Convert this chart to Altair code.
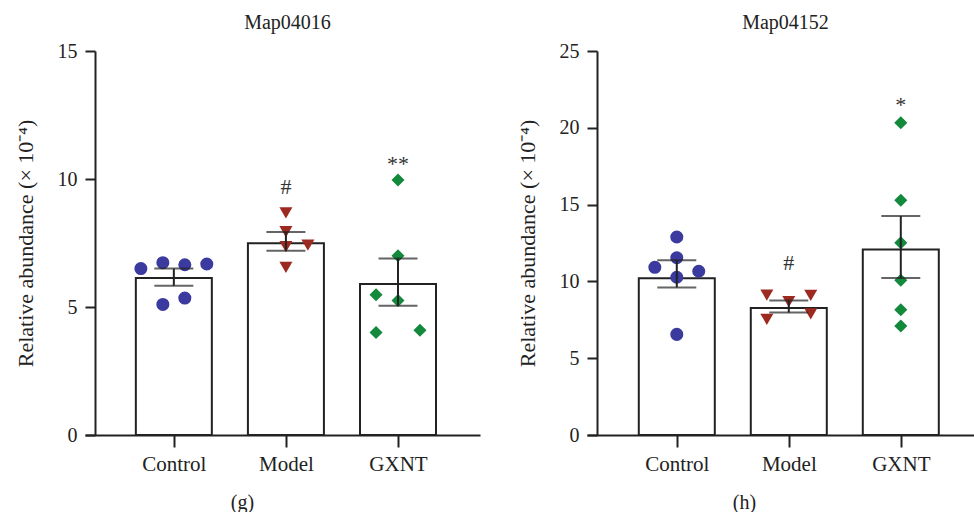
import altair as alt
import pandas as pd

groups = ["Control", "Model", "GXNT"]
colors = ["#3b3a9e", "#9d2a21", "#13893c"]
shapes = ["circle", "triangle-down", "diamond"]

# Map04016 (g): per-animal relative abundance (x 10^-4)
g_control = [6.50, 6.73, 6.65, 6.68, 5.10, 5.35]
g_model = [8.68, 7.94, 7.36, 7.42, 6.55]
g_gxnt = [9.96, 7.00, 5.48, 5.25, 4.00, 4.09]
g_bar = [6.13, 7.49, 5.90]
g_err_lo = [5.83, 7.20, 5.05]
g_err_hi = [6.50, 7.93, 6.89]
g_sig = ["", "#", "**"]
g_sig_at = [0.0, 9.41, 10.32]

# Map04152 (h)
h_control = [12.89, 11.54, 10.92, 10.27, 10.66, 6.55]
h_model = [9.11, 8.68, 9.09, 7.53, 7.88]
h_gxnt = [20.33, 15.28, 12.52, 10.07, 8.16, 7.10]
h_bar = [10.20, 8.27, 12.07]
h_err_lo = [9.61, 7.97, 10.22]
h_err_hi = [11.37, 8.75, 14.26]
h_sig = ["", "#", "*"]
h_sig_at = [0.0, 10.76, 21.05]

# side-by-side slots for overlapping dots (in dot widths)
g_slots = [[-1.5, -0.5, 0.5, 1.5, -0.5, 0.5], [0, 0, 0, 1, 0], [0, 0, -1, 0, -1, 1]]
h_slots = [[0, 0, -1, 0, 1, 0], [-1, 0, 1, -1, 1], [0, 0, 0, 0, 0, 0]]

FONT = "Liberation Serif"
INK = "#222222"
SLOT = 0.196


def panel(values, slots, bar, lo, hi, sig, sig_at, ymax, yticks, title, caption,
          xdomain, width):
    pts = pd.DataFrame(
        [
            {"idx": i, "group": groups[i], "value": v, "slot": s}
            for i, (vals, sl) in enumerate(zip(values, slots))
            for v, s in zip(vals, sl)
        ]
    )
    bars = pd.DataFrame(
        {"idx": [0, 1, 2], "group": groups, "bar": bar, "lo": lo, "hi": hi}
    )
    marks = pd.DataFrame(
        {"idx": [i for i in range(3) if sig[i]],
         "label": [s for s in sig if s],
         "at": [a for s, a in zip(sig, sig_at) if s]}
    )

    xscale = alt.Scale(domain=xdomain, nice=False, zero=False)
    yscale = alt.Scale(domain=[0, ymax], nice=False)

    x_axis = alt.Axis(
        values=[0, 1, 2],
        labelExpr="['Control','Model','GXNT'][datum.value]",
        labelFontSize=21,
        title=caption,
        titleX=157,
        titleY=73,
        titleAlign="center",
        titleBaseline="alphabetic",
        tickSize=12,
        labelPadding=6,
        grid=False,
    )
    y_axis = alt.Axis(
        values=yticks,
        title="Relative abundance (× 10⁻⁴)",
        titleFontSize=22,
        offset=-10,
        tickSize=10,
        labelPadding=8,
        titleX=-70,
        titleBaseline="middle",
        grid=False,
    )

    base_bar = alt.Chart(bars)
    bar_layer = base_bar.mark_bar(
        size=76, fill="white", stroke=INK, strokeWidth=2
    ).encode(
        x=alt.X("idx:Q", scale=xscale, axis=x_axis),
        y=alt.Y("bar:Q", scale=yscale, axis=y_axis),
    )

    dots = alt.Chart(pts).transform_calculate(
        pos=f"datum.idx + datum.slot * {SLOT}"
    ).mark_point(filled=True, size=170, opacity=1).encode(
        x=alt.X("pos:Q", scale=xscale),
        y=alt.Y("value:Q", scale=yscale),
        color=alt.Color("group:N", scale=alt.Scale(domain=groups, range=colors), legend=None),
        shape=alt.Shape("group:N", scale=alt.Scale(domain=groups, range=shapes), legend=None),
    )

    stem = base_bar.mark_rule(color=INK, strokeWidth=2).encode(
        x=alt.X("idx:Q", scale=xscale),
        y=alt.Y("lo:Q", scale=yscale),
        y2="hi:Q",
    )
    caps = base_bar.transform_fold(["lo", "hi"], as_=["end", "v"]).mark_tick(
        orient="horizontal", size=39, thickness=2, color=INK
    ).encode(
        x=alt.X("idx:Q", scale=xscale),
        y=alt.Y("v:Q", scale=yscale),
    )

    stars = alt.Chart(marks).mark_text(
        font=FONT, fontSize=22, baseline="alphabetic", color="#333333"
    ).encode(
        x=alt.X("idx:Q", scale=xscale),
        y=alt.Y("at:Q", scale=yscale),
        text="label:N",
    )

    return alt.layer(bar_layer, dots, stem, caps, stars).properties(
        width=width,
        height=384,
        title=alt.TitleParams(title, dx=5, offset=-8, frame="group",
                              baseline="alphabetic"),
    )


left = panel(
    [g_control, g_model, g_gxnt], g_slots, g_bar, g_err_lo, g_err_hi,
    g_sig, g_sig_at, 15, [0, 5, 10, 15], "Map04016", "(g)",
    [-0.748, 2.687], 395,
)
right = panel(
    [h_control, h_model, h_gxnt], h_slots, h_bar, h_err_lo, h_err_hi,
    h_sig, h_sig_at, 25, [0, 5, 10, 15, 20, 25], "Map04152", "(h)",
    [-0.757, 2.609], 387,
)

chart = alt.hconcat(left, right, spacing=107, bounds="flush").properties(
    padding={"left": 14, "top": 13, "right": 0, "bottom": 0},
    background="white",
).configure_view(stroke=None).configure_axis(
    labelFont=FONT,
    labelFontSize=20,
    labelColor=INK,
    titleFont=FONT,
    titleFontSize=20,
    titleFontWeight="normal",
    titleColor=INK,
    domainColor=INK,
    domainWidth=2,
    tickColor=INK,
    tickWidth=2,
).configure_title(
    font=FONT, fontSize=20, fontWeight="normal", color=INK, anchor="middle"
)

chart.save("out.html", embed_options={"renderer": "svg", "actions": False})
